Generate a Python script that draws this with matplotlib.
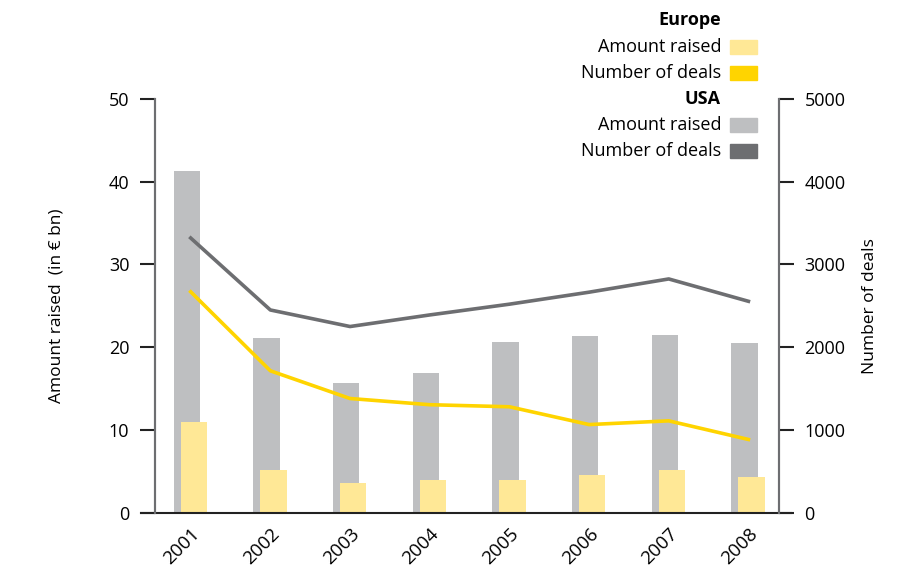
import numpy as np
import matplotlib
matplotlib.use('Agg')
import matplotlib.pyplot as plt
from matplotlib.patches import Rectangle

plt.rcParams['font.family'] = ['Open Sans', 'DejaVu Sans']

years = ['2001', '2002', '2003', '2004', '2005', '2006', '2007', '2008']
usa_amount = [41.3, 21.1, 15.7, 16.9, 20.6, 21.4, 21.5, 20.5]
europe_amount = [10.9, 5.2, 3.6, 3.9, 4.0, 4.6, 5.2, 4.35]
usa_deals = [3320, 2450, 2250, 2390, 2520, 2665, 2825, 2555]
europe_deals = [2670, 1715, 1380, 1305, 1280, 1065, 1110, 885]

c_usa_bar = '#bebfc1'
c_eu_bar = '#ffe896'
c_usa_line = '#6d6e71'
c_eu_line = '#ffd400'

fig = plt.figure(figsize=(9.16, 5.67), dpi=100)
ax = fig.add_axes([0.1692, 0.0958, 0.6809, 0.7296])
ax2 = ax.twinx()

x = np.arange(len(years))
w = 0.33
ax.bar(x - 0.05, usa_amount, width=w, color=c_usa_bar, zorder=1)
ax.bar(x + 0.04, europe_amount, width=w, color=c_eu_bar, zorder=2)

ax2.plot(x, usa_deals, color=c_usa_line, lw=2.6)
ax2.plot(x, europe_deals, color=c_eu_line, lw=2.6)

ax.set_xlim(-0.448, 7.38)
ax.set_ylim(0, 50)
ax2.set_ylim(0, 5000)
ax.set_yticks([0, 10, 20, 30, 40, 50])
ax2.set_yticks([0, 1000, 2000, 3000, 4000, 5000])
ax.set_xticks(x)
ax.set_xticklabels(years, rotation=45, ha='right', rotation_mode='anchor', fontsize=13.5)

for a in (ax, ax2):
    a.spines['top'].set_visible(False)
    a.spines['bottom'].set_visible(False)
    a.spines['left'].set_color('#6d6e71')
    a.spines['right'].set_color('#6d6e71')
    a.spines['left'].set_linewidth(1.5)
    a.spines['right'].set_linewidth(1.5)
    a.tick_params(axis='y', length=10.5, width=1.5, labelsize=13, pad=8, color='#222222')
ax.tick_params(axis='x', length=0, pad=9)
ax2.patch.set_visible(False)

ax.plot([-0.023, 1.02], [0, 0], transform=ax.transAxes, color='#222222', lw=1.5, clip_on=False)

ax.set_ylabel('Amount raised  (in € bn)', fontsize=12.5, labelpad=32)
ax2.set_ylabel('Number of deals', fontsize=12.5, labelpad=12)

# legend drawn by hand in figure pixels
W, H = 916, 567
def fx(px):
    return px / W
def fy(py):
    return 1 - py / H

legend_rows = [
    ('Europe', None, 20),
    ('Amount raised', c_eu_bar, 47),
    ('Number of deals', c_eu_line, 73),
    ('USA', None, 99),
    ('Amount raised', c_usa_bar, 125),
    ('Number of deals', c_usa_line, 151),
]
for label, col, yy in legend_rows:
    if col is None:
        fig.text(fx(721), fy(yy), label, ha='right', va='center', fontsize=13, fontweight='bold')
    else:
        fig.text(fx(721), fy(yy), label, ha='right', va='center', fontsize=13)
        fig.patches.append(Rectangle((fx(730), fy(yy + 7)), fx(27), 14 / H,
                                     transform=fig.transFigure, color=col, figure=fig))

fig.savefig('out.png', dpi=100)
